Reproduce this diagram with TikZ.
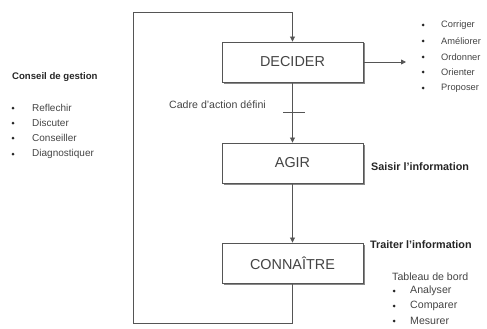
\documentclass[tikz,border=0pt]{standalone}
\usepackage{fontspec}
\setmainfont{Liberation Sans}
\usetikzlibrary{arrows.meta}
\definecolor{ln}{HTML}{555555}
\definecolor{tx}{HTML}{444444}
\definecolor{shd}{HTML}{888888}
\tikzset{
  mainbox/.style={draw=ln, line width=0.9pt, fill=white, minimum width=141pt, minimum height=40pt, inner sep=0pt, text=tx, font=\fontsize{14.4}{16}\selectfont},
  shadowbox/.style={fill=shd, minimum width=141pt, minimum height=40pt, inner sep=0pt},
  conn/.style={draw=ln, line width=0.8pt},
  arr/.style={conn, -{Triangle[width=5pt,length=5pt]}},
  small/.style={text=tx, font=\fontsize{10}{12}\selectfont, inner sep=0pt, anchor=west},
  smaller/.style={text=tx, font=\fontsize{9.3}{11}\selectfont, inner sep=0pt, anchor=west},
  bold/.style={text=black!85, font=\bfseries\fontsize{10}{12}\selectfont, inner sep=0pt, anchor=west},
  bul/.style={circle, fill=black!85, minimum size=3pt, inner sep=0pt}
}
\begin{document}
\begin{tikzpicture}[x=1pt,y=-1pt]
\useasboundingbox (0,0) rectangle (487,329);
% shadows
\node[shadowbox] (decs) at (294,63.5) {};
\node[shadowbox] (agis) at (294,164.5) {};
\node[shadowbox] (cons) at (294,264.5) {};
% boxes
\node[mainbox] (dec) at (292.5,62) {DECIDER};
\node[mainbox] (agi) at (292.5,163) {AGIR};
\node[mainbox] (con) at (292.5,263) {CONNAÎTRE};
% loop
\coordinate (lb) at (133,323);
\coordinate (lt) at (133,12);
\draw[arr] (con.south) |- (lb) -- (lt) -| (dec.north);
% dec to agir with tick
\draw[arr] (dec.south) -- (agi.north);
\coordinate (tkl) at (283,112);
\coordinate (tkr) at (305,112);
\draw[conn] (tkl) -- (tkr);
\node[small, font=\fontsize{10.6}{12}\selectfont] (cadre) at (169,105) {Cadre d'action défini};
% agir to connaitre
\draw[arr] (agi.south) -- (con.north);
% right arrow
\coordinate (rt) at (406,62);
\draw[arr] (dec.east) -- (rt);
% top-right list
\foreach \t/\y [count=\i] in {Corriger/25,Améliorer/41,Ordonner/57,Orienter/72,Proposer/88}{
  \node[bul] (trb\i) at (423,\y) {};
  \node[smaller] (trt\i) at (441,\y) {\t};
}
% left
\node[bold, font=\bfseries\fontsize{9.6}{12}\selectfont] (cg) at (12,77) {Conseil de gestion};
\foreach \t/\y [count=\i] in {Reflechir/108,Discuter/123,Conseiller/138,Diagnostiquer/154}{
  \node[bul] (lb\i) at (13,\y) {};
  \node[small] (lt\i) at (32,\y) {\t};
}
% right labels
\node[bold, font=\bfseries\fontsize{10.8}{12}\selectfont] (sai) at (371,167) {Saisir l'information};
\node[bold, font=\bfseries\fontsize{10.8}{12}\selectfont] (tra) at (370,245) {Traiter l'information};
\node[small, font=\fontsize{10.6}{12}\selectfont] (tab) at (392,277) {Tableau de bord};
\foreach \t/\y [count=\i] in {Analyser/291,Comparer/306,Mesurer/321}{
  \node[bul] (brb\i) at (394,\y) {};
  \node[small, font=\fontsize{10.6}{12}\selectfont] (brt\i) at (410,\y) {\t};
}
\end{tikzpicture}
\end{document}
